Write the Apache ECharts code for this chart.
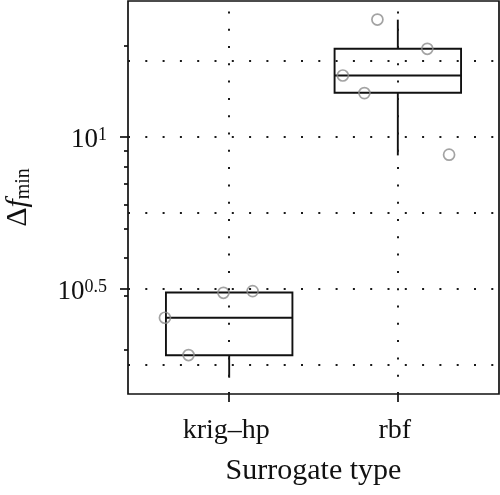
<!DOCTYPE html>
<html>
<head>
<meta charset="utf-8">
<script src="https://cdn.jsdelivr.net/npm/echarts@6/dist/echarts.min.js"></script>
<style>html,body{margin:0;padding:0;background:#fff;}#c{width:500px;height:495px;}</style>
</head>
<body>
<div id="c"></div>
<script>
// ---- data (Δf_min values) ----
const categories = ['krig\u2013hp', 'rbf'];
const whiskerLow  = [1.613, 8.69];
const q1          = [1.911, 13.97];
const median      = [2.54, 15.92];
const q3          = [3.077, 19.49];
const whiskerHigh = [3.077, 24.3];
const krigPoints  = [2.54, 1.915, 3.068, 3.108];
const krigJitter  = [-0.381, -0.241, -0.034, 0.139];
const rbfPoints   = [24.32, 19.49, 15.92, 13.93, 8.74];
const rbfJitter   = [-0.121, 0.175, -0.326, -0.198, 0.304];
const yLabelExp   = ['0.5', '1'];          // tick labels 10^0.5, 10^1
const yMinorTicks = [2, 3, 4, 5, 6, 7, 8, 9, 20];
const yGridExp    = [0.25, 0.5, 0.75, 1, 1.25];
const yRangeExp   = [0.154, 1.447];

const L = Math.log10;
const FONT = 'Liberation Serif';
const INK = '#111';
const boxData = categories.map((c, i) => [i + 1, L(whiskerLow[i]), L(q1[i]), L(median[i]), L(q3[i]), L(whiskerHigh[i])]);
const pts = [];
krigPoints.forEach((v, i) => pts.push([1 + krigJitter[i], L(v)]));
rbfPoints.forEach((v, i) => pts.push([2 + rbfJitter[i], L(v)]));

const dotted = { color: '#1a1a1a', width: 2, type: [2, 15.3], cap: 'butt' };
const gridLines = yGridExp.map(e => ({ yAxis: e })).concat(categories.map((c, i) => ({ xAxis: i + 1 })));

const chart = echarts.init(document.getElementById('c'), null, { renderer: 'canvas' });
chart.setOption({
  animation: false,
  backgroundColor: '#fff',
  grid: { left: 128, right: 1, top: 1, bottom: 101, containLabel: false, outerBoundsMode: 'none',
          show: true, borderColor: INK, borderWidth: 1.7, backgroundColor: 'transparent' },
  xAxis: {
    type: 'value', min: 0.4, max: 2.6,
    axisLine: { show: false },
    splitLine: { show: false },
    axisTick: { show: true, customValues: categories.map((c, i) => i + 1), length: 8, lineStyle: { color: INK, width: 1.7 } },
    axisLabel: { customValues: categories.map((c, i) => i + 1), formatter: v => categories[Math.round(v) - 1],
                 fontFamily: FONT, fontSize: 28, color: INK, margin: 23, padding: [0, 6, 0, 0] },
    name: 'Surrogate type', nameLocation: 'middle', nameGap: 62,
    nameTextStyle: { fontFamily: FONT, fontSize: 30, color: INK }
  },
  yAxis: [{
    type: 'value', min: yRangeExp[0], max: yRangeExp[1],
    axisLine: { show: false },
    splitLine: { show: false },
    axisTick: { show: true, customValues: yLabelExp.map(Number), length: 8, lineStyle: { color: INK, width: 1.7 } },
    axisLabel: {
      customValues: yLabelExp.map(Number),
      formatter: v => '{b|10}{s|' + yLabelExp[yLabelExp.map(Number).indexOf(v)] + '}',
      margin: 21, padding: [6, 0, 0, 0],
      rich: {
        b: { fontFamily: FONT, fontSize: 27, lineHeight: 28, color: INK },
        s: { fontFamily: FONT, fontSize: 18, lineHeight: 14, verticalAlign: 'top', color: INK }
      }
    },
    name: '\u0394{i|f}{s|min}', nameLocation: 'middle', nameGap: 94, nameRotate: 90,
    nameTextStyle: {
      fontFamily: FONT, fontSize: 30, color: INK, lineHeight: 32,
      rich: {
        i: { fontFamily: FONT, fontSize: 30, fontStyle: 'italic', color: INK, lineHeight: 32 },
        s: { fontFamily: FONT, fontSize: 20, color: INK, lineHeight: 6, verticalAlign: 'bottom' }
      }
    }
  }, {
    type: 'value', min: yRangeExp[0], max: yRangeExp[1], position: 'left',
    axisLine: { show: false }, splitLine: { show: false }, axisLabel: { show: false },
    axisTick: { show: true, customValues: yMinorTicks.map(L), length: 4, lineStyle: { color: INK, width: 1.7 } }
  }],
  series: [{
    type: 'line', data: [], silent: true, z: 1,
    markLine: { silent: true, symbol: 'none', label: { show: false }, lineStyle: dotted, data: gridLines, animation: false }
  }, {
    type: 'custom', z: 3, silent: true,
    data: boxData,
    renderItem: function (params, api) {
      const x = api.value(0);
      const hw = 0.375;
      const pLo = api.coord([x, api.value(1)]);
      const pQ1 = api.coord([x, api.value(2)]);
      const pMd = api.coord([x, api.value(3)]);
      const pQ3 = api.coord([x, api.value(4)]);
      const pHi = api.coord([x, api.value(5)]);
      const xl = api.coord([x - hw, api.value(3)])[0];
      const xr = api.coord([x + hw, api.value(3)])[0];
      const st = { stroke: INK, lineWidth: 1.9, fill: null };
      return { type: 'group', children: [
        { type: 'line', shape: { x1: pQ1[0], y1: pQ1[1], x2: pLo[0], y2: pLo[1] }, style: st },
        { type: 'line', shape: { x1: pQ3[0], y1: pQ3[1], x2: pHi[0], y2: pHi[1] }, style: st },
        { type: 'rect', shape: { x: xl, y: pQ3[1], width: xr - xl, height: pQ1[1] - pQ3[1] }, style: st },
        { type: 'line', shape: { x1: xl, y1: pMd[1], x2: xr, y2: pMd[1] }, style: st }
      ] };
    }
  }, {
    type: 'scatter', z: 4, silent: true,
    data: pts, symbol: 'circle', symbolSize: 11,
    itemStyle: { color: 'rgba(0,0,0,0)', borderColor: '#8c8c8c', borderWidth: 1.7 }
  }]
});
</script>
</body>
</html>
